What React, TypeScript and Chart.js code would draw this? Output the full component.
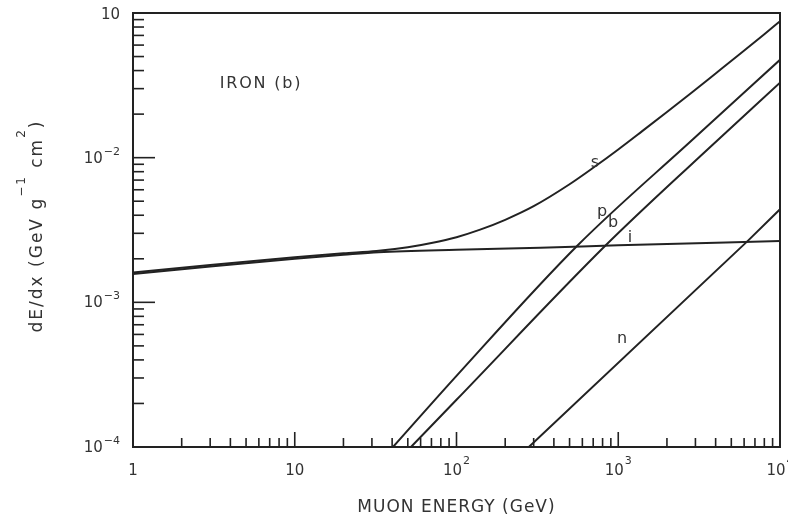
import React, { useEffect, useRef } from "react";
import { Chart, registerables } from "chart.js";

Chart.register(...registerables);

// ---- data (muon energy loss in iron) ----
const energyIon = [1, 3, 10, 20, 33, 100, 330, 1000, 10000];
const lossIon = [1.57e-3, 1.77e-3, 2.0e-3, 2.13e-3, 2.22e-3, 2.31e-3, 2.38e-3, 2.48e-3, 2.65e-3];

const energySum = [1, 3, 10, 20, 32, 50, 70, 100, 140, 200, 300, 500, 700, 1000, 1400, 2000, 2800, 4000, 5600, 8000, 10000];
const lossSum = [1.61e-3, 1.815e-3, 2.05e-3, 2.18e-3, 2.26e-3, 2.4e-3, 2.57e-3, 2.82e-3, 3.18e-3, 3.72e-3, 4.62e-3, 6.55e-3, 8.51e-3, 1.14e-2, 1.52e-2, 2.07e-2, 2.78e-2, 3.82e-2, 5.16e-2, 7.14e-2, 8.77e-2];

const energyPair = [40.5, 100, 564, 2897, 10000];
const lossPair = [1e-4, 3.1e-4, 2.49e-3, 1.34e-2, 4.75e-2];

const energyBrems = [52.3, 100, 840, 3200, 10000];
const lossBrems = [1e-4, 2.12e-4, 2.49e-3, 1.02e-2, 3.3e-2];

const energyNucl = [280, 6300, 10000];
const lossNucl = [1e-4, 2.65e-3, 4.4e-3];

// tick values and labels
const xMajorTicks = [1, 10, 100, 1000, 10000];
const xTickBase = ["1", "10", "10", "10", "10"];
const xTickExp = ["", "", "2", "3", "4"];
const yMajorTicks = [1e-4, 1e-3, 1e-2, 1e-1];
const yTickBase = ["10", "10", "10", "10"];
const yTickExp = ["\u22124", "\u22123", "\u22122", ""];

// curve labels: text, energy, dE/dx
const curveLabelText = ["s", "p", "b", "i", "n"];
const curveLabelE = [718, 794, 929, 1182, 1055];
const curveLabelY = [9.16e-3, 4.2e-3, 3.53e-3, 2.79e-3, 5.6e-4];

const panelTitle = "IRON (b)";
const panelTitleE = 6.19;
const panelTitleY = 3.26e-2;

const xTitle = "MUON ENERGY (GeV)";

const INK = "#222222";
const TEXT = "#333333";
const FONT = "'DejaVu Sans', sans-serif";

function pts(xs: number[], ys: number[]) {
  return xs.map((x, i) => ({ x, y: ys[i] }));
}

const decorPlugin = {
  id: "decor",
  afterDraw(chart: any) {
    const { ctx, chartArea: ca } = chart;
    const xs = chart.scales.x;
    const ys = chart.scales.y;
    ctx.save();
    // frame
    ctx.strokeStyle = INK;
    ctx.lineWidth = 2;
    ctx.strokeRect(ca.left, ca.top, ca.right - ca.left, ca.bottom - ca.top);

    // x ticks (inward)
    ctx.lineWidth = 1.6;
    for (let d = 0; d < xMajorTicks.length; d++) {
      const dec = xMajorTicks[d];
      for (let m = 1; m <= 9; m++) {
        const v = dec * m;
        if (v > xs.max) break;
        const px = xs.getPixelForValue(v);
        const len = m === 1 ? 15 : 9;
        ctx.beginPath();
        ctx.moveTo(px, ca.bottom);
        ctx.lineTo(px, ca.bottom - len);
        ctx.stroke();
      }
    }
    // y ticks (inward)
    for (let d = 0; d < yMajorTicks.length; d++) {
      const dec = yMajorTicks[d];
      for (let m = 1; m <= 9; m++) {
        const v = dec * m;
        if (v > ys.max * 1.0001) break;
        const py = ys.getPixelForValue(v);
        const len = m === 1 ? 22 : 11;
        ctx.beginPath();
        ctx.moveTo(ca.left, py);
        ctx.lineTo(ca.left + len, py);
        ctx.stroke();
      }
    }

    ctx.fillStyle = TEXT;
    // x tick labels
    const baseFont = `15px ${FONT}`;
    const expFont = `11px ${FONT}`;
    ctx.textBaseline = "middle";
    ctx.textAlign = "left";
    for (let i = 0; i < xMajorTicks.length; i++) {
      const px = xs.getPixelForValue(xMajorTicks[i]);
      ctx.font = baseFont;
      const w1 = ctx.measureText(xTickBase[i]).width;
      ctx.font = expFont;
      const w2 = xTickExp[i] ? ctx.measureText(xTickExp[i]).width + 1 : 0;
      const start = px - (w1 + w2) / 2;
      ctx.font = baseFont;
      ctx.fillText(xTickBase[i], start, ca.bottom + 24);
      if (xTickExp[i]) {
        ctx.font = expFont;
        ctx.fillText(xTickExp[i], start + w1 + 1, ca.bottom + 14);
      }
    }
    // y tick labels (right aligned at x = 120)
    for (let i = 0; i < yMajorTicks.length; i++) {
      const py = ys.getPixelForValue(yMajorTicks[i]);
      ctx.font = expFont;
      const w2 = yTickExp[i] ? ctx.measureText(yTickExp[i]).width + 1 : 0;
      ctx.font = baseFont;
      const w1 = ctx.measureText(yTickBase[i]).width;
      const right = ca.left - 13;
      const yy = yTickExp[i] ? py + 1 : py + 2;
      ctx.fillText(yTickBase[i], right - w2 - w1, yy);
      if (yTickExp[i]) {
        ctx.font = expFont;
        ctx.fillText(yTickExp[i], right - w2 + 1, py - 6);
      }
    }

    // x title
    ctx.font = `17px ${FONT}`;
    (ctx as any).letterSpacing = "1px";
    ctx.textAlign = "center";
    ctx.fillText(xTitle, (ca.left + ca.right) / 2, ca.bottom + 61);

    // y title (rotated)
    const segs = [
      { t: "dE/dx (GeV g", sup: false },
      { t: "\u22121", sup: true },
      { t: " cm", sup: false },
      { t: "2", sup: true },
      { t: ")", sup: false },
    ];
    (ctx as any).letterSpacing = "2px";
    ctx.textAlign = "left";
    ctx.textBaseline = "alphabetic";
    let total = 0;
    const widths = segs.map((s) => {
      ctx.font = s.sup ? `12px ${FONT}` : `17px ${FONT}`;
      const w = ctx.measureText(s.t).width;
      total += w;
      return w;
    });
    ctx.save();
    ctx.translate(42, 226);
    ctx.rotate(-Math.PI / 2);
    let cx = -total / 2;
    segs.forEach((s, i) => {
      ctx.font = s.sup ? `12px ${FONT}` : `17px ${FONT}`;
      ctx.fillText(s.t, cx, s.sup ? -17 : 0);
      cx += widths[i];
    });
    ctx.restore();

    // panel title
    ctx.font = `16px ${FONT}`;
    (ctx as any).letterSpacing = "1.8px";
    ctx.textAlign = "center";
    ctx.textBaseline = "middle";
    ctx.fillText(panelTitle, xs.getPixelForValue(panelTitleE), ys.getPixelForValue(panelTitleY));

    // curve labels
    (ctx as any).letterSpacing = "0px";
    ctx.font = `16px ${FONT}`;
    for (let i = 0; i < curveLabelText.length; i++) {
      ctx.fillText(
        curveLabelText[i],
        xs.getPixelForValue(curveLabelE[i]),
        ys.getPixelForValue(curveLabelY[i])
      );
    }
    ctx.restore();
  },
};

export default function App() {
  const ref = useRef<HTMLCanvasElement | null>(null);
  useEffect(() => {
    if (!ref.current) return;
    const line = (data: { x: number; y: number }[], smooth: boolean) => ({
      data,
      borderColor: INK,
      borderWidth: 2,
      pointRadius: 0,
      fill: false,
      cubicInterpolationMode: smooth ? ("monotone" as const) : ("default" as const),
      tension: 0,
    });
    const chart = new Chart(ref.current, {
      type: "line",
      data: {
        datasets: [
          line(pts(energyIon, lossIon), true),
          line(pts(energySum, lossSum), true),
          line(pts(energyPair, lossPair), true),
          line(pts(energyBrems, lossBrems), true),
          line(pts(energyNucl, lossNucl), false),
        ],
      },
      options: {
        animation: false,
        responsive: false,
        devicePixelRatio: 1,
        layout: { padding: { left: 133, top: 13, right: 8, bottom: 74 } },
        scales: {
          x: { type: "logarithmic", min: 1, max: 10000, display: false },
          y: { type: "logarithmic", min: 1e-4, max: 1e-1, display: false },
        },
        plugins: { legend: { display: false }, tooltip: { enabled: false } },
        elements: { point: { radius: 0 } },
      },
      plugins: [decorPlugin],
    });
    return () => chart.destroy();
  }, []);
  return (
    <div style={{ position: "fixed", left: 0, top: 0, width: 788, height: 521, background: "#fff" }}>
      <canvas ref={ref} width={788} height={521} style={{ display: "block" }} />
    </div>
  );
}
